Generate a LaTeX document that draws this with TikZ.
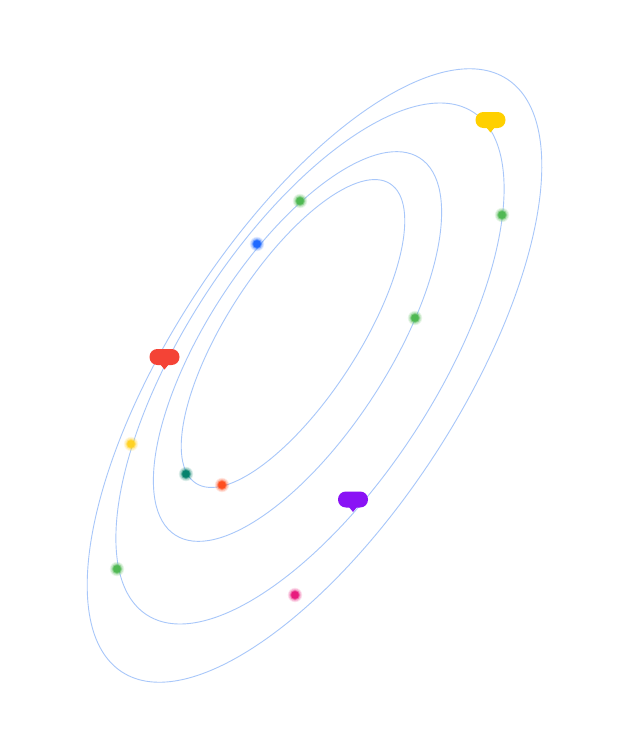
\documentclass[tikz,border=0pt]{standalone}
\definecolor{orbitc}{HTML}{A8C7FA}
\definecolor{bY}{HTML}{FFD000}
\definecolor{bR}{HTML}{F44336}
\definecolor{bP}{HTML}{8A12F5}
\definecolor{dG}{HTML}{4CB84F}
\definecolor{dB}{HTML}{1A66FF}
\definecolor{dT}{HTML}{00806A}
\definecolor{dO}{HTML}{FF4A1A}
\definecolor{dY}{HTML}{FFD21F}
\definecolor{dP}{HTML}{E8157A}
\tikzset{
  orbit/.style={draw=orbitc, line width=0.9pt},
  pics/bubble/.style={code={
    \fill[pic actions, rounded corners=7.8pt] (-15,-8) rectangle (15,8);
    \fill[pic actions] (-4.5,7) -- (0,12.5) -- (4.5,7) -- cycle;
  }},
  pics/glow/.style={code={
    \fill[pic actions, opacity=0.12] (0,0) circle[radius=7.2];
    \fill[pic actions, opacity=0.18] (0,0) circle[radius=6.3];
    \fill[pic actions, opacity=0.3] (0,0) circle[radius=5.4];
    \fill[pic actions, opacity=0.5] (0,0) circle[radius=4.6];
    \fill[pic actions, opacity=0.9] (0,0) circle[radius=3.8];
  }}
}
\begin{document}
\begin{tikzpicture}[x=1pt,y=-1pt]
\useasboundingbox[fill=white] (0,0) rectangle (629,752);
% orbits
\draw[orbit, rotate around={57:(314.5,375.5)}] (314.5,375.5) ellipse [x radius=353.5, y radius=144];
\draw[orbit, rotate around={57:(310,363.5)}] (310,363.5) ellipse [x radius=299.7, y radius=125.2];
\draw[orbit, rotate around={57:(297.5,346.5)}] (297.5,346.5) ellipse [x radius=224.7, y radius=90.7];
\draw[orbit, rotate around={57:(293,333.5)}] (293,333.5) ellipse [x radius=178.5, y radius=65.7];
% dots
\pic[fill=dG] at (300,201) {glow};
\pic[fill=dB] at (257,244) {glow};
\pic[fill=dG] at (502,215) {glow};
\pic[fill=dG] at (415,318) {glow};
\pic[fill=dY] at (131,444) {glow};
\pic[fill=dT] at (186,474) {glow};
\pic[fill=dO] at (222,485) {glow};
\pic[fill=dG] at (117,569) {glow};
\pic[fill=dP] at (295,595) {glow};
% bubbles
\pic[fill=bY] at (490.5,120) {bubble};
\pic[fill=bR] at (164.5,357) {bubble};
\pic[fill=bP] at (353,499.5) {bubble};
\end{tikzpicture}
\end{document}
